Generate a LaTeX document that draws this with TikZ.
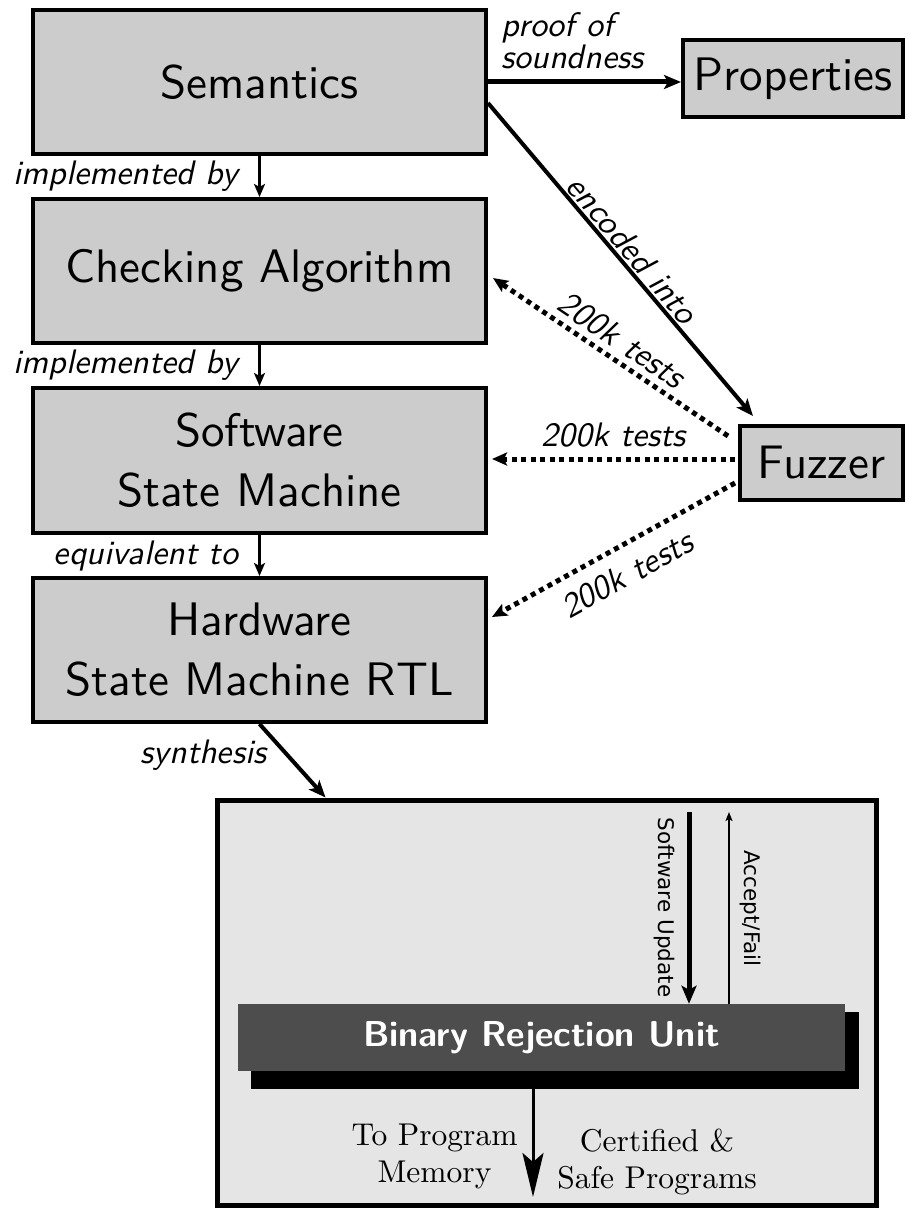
\documentclass[tikz,border=0pt]{standalone}
\usepackage{fontspec}
\setmainfont{lmroman10-regular.otf}
\setsansfont{lmsans10-regular.otf}[BoldFont=lmsans10-bold.otf, ItalicFont=lmsans10-oblique.otf, BoldItalicFont=lmsans10-boldoblique.otf]
\newfontfamily\dejavu{DejaVu Sans}
\usetikzlibrary{arrows.meta,calc}
\definecolor{boxgray}{HTML}{CCCCCC}
\definecolor{panelgray}{HTML}{E5E5E5}
\definecolor{brugray}{HTML}{4D4D4D}
\begin{document}
\begin{tikzpicture}[x=1pt,y=-1pt,
  box/.style={draw, line width=4pt, fill=boxgray, inner sep=0pt, align=center,
    font=\sffamily\fontsize{47}{60}\selectfont},
  lbl/.style={font=\sffamily\itshape\fontsize{34}{30}\selectfont, inner sep=0pt},
  flow/.style={line width=3pt, -{Stealth[length=13pt,width=11pt,inset=3pt]}},
  bigflow/.style={line width=4.5pt, -{Stealth[length=17pt,width=14pt,inset=4pt]}},
  testflow/.style={line width=5pt, dash pattern=on 5pt off 4.5pt,
    -{Stealth[length=15pt,width=13pt,inset=3pt]}},
  inlbl/.style={font=\dejavu\fontsize{21.5}{25}\selectfont, inner sep=0pt, rotate=-90},
  outlbl/.style={font=\rmfamily\fontsize{31.5}{37}\selectfont, inner sep=0pt, align=center},
]
\useasboundingbox (0,0) rectangle (905,1209);

% upper chain
\node[box, minimum width=453pt, minimum height=144pt] (sem) at (259.5,82) {Semantics};
\node[box, minimum width=453pt, minimum height=144pt] (chk) at (259.5,271) {Checking Algorithm};
\node[box, minimum width=453pt, minimum height=145pt] (sw) at (259.5,460.5) {Software\\State Machine};
\node[box, minimum width=453pt, minimum height=144pt] (hw) at (259.5,650) {Hardware\\State Machine RTL};
\node[box, minimum width=220pt, minimum height=77pt] (prop) at (793,78.5) {Properties};
\node[box, minimum width=163pt, minimum height=74pt] (fuz) at (821.5,463) {Fuzzer};

\draw[flow] (sem.south) -- (chk.north) node[lbl, midway, left=20pt] {implemented by};
\draw[flow] (chk.south) -- (sw.north) node[lbl, midway, left=20pt] {implemented by};
\draw[flow] (sw.south) -- (hw.north) node[lbl, midway, left=20pt] {equivalent to};

\draw[bigflow, line width=5pt] (sem.east) -- (sem.east -| prop.west)
  node[lbl, midway, above=11pt, xshift=-12pt, align=left] {proof of\\soundness};
\draw[bigflow, line width=4pt] ($(sem.east)+(0,21)$) -- ($(fuz.north west)+(15,-8)$)
  node[lbl, midway, sloped, above=2pt] {encoded into};

\draw[testflow] ($(fuz.north west)+(-10,12)$) -- ($(chk.east)+(5,7)$)
  node[lbl, midway, sloped, above=6pt] {200k tests};
\draw[testflow] ($(fuz.west)+(-3,-4)$) -- ($(sw.east)+(4,-1.5)$)
  node[lbl, midway, above=9pt] {200k tests};
\draw[testflow] ($(fuz.west)+(-3,20)$) -- ($(hw.east)+(4,-33)$)
  node[lbl, midway, sloped, below=13pt] {200k tests};

% lower panel
\node[draw, line width=5pt, fill=panelgray, minimum width=659pt, minimum height=405pt] (panel) at (546.5,1002.5) {};
\node[fill=black, inner sep=0pt, minimum width=608pt, minimum height=77pt] (shadow) at (555,1050.5) {};
\node[fill=brugray, inner sep=0pt, minimum width=607pt, minimum height=67pt, text=white,
  font=\sffamily\bfseries\fontsize{36}{40}\selectfont] (bru) at (541.5,1037.5) {Binary Rejection Unit};

\draw[bigflow, line width=4pt] (hw.south) -- ($(panel.north west)+(111,0)$)
  node[lbl, pos=0.42, left=19pt] {synthesis};

\coordinate (su) at (689,812);
\coordinate (af) at (729,812);
\draw[line width=5pt, -{Stealth[length=18pt,width=15pt,inset=4pt]}] (su) -- (su |- bru.north);
\draw[line width=2pt, -{Stealth[length=9pt,width=7pt,inset=2pt]}] (af |- bru.north) -- (af);
\node[inlbl, anchor=north] (sulbl) at (675,907.5) {Software Update};
\node[inlbl, anchor=south] (aflbl) at (740,908.5) {Accept/Fail};

\coordinate (mem) at (533,1197);
\draw[line width=3pt, -{Stealth[length=44pt,width=21pt,inset=9pt]}] (mem |- shadow.south) -- (mem);
\node[outlbl] (tpm) at (434.5,1156.5) {To Program\\Memory};
\node[outlbl] (csp) at (657,1161.5) {Certified \&\\Safe Programs};
\end{tikzpicture}
\end{document}
